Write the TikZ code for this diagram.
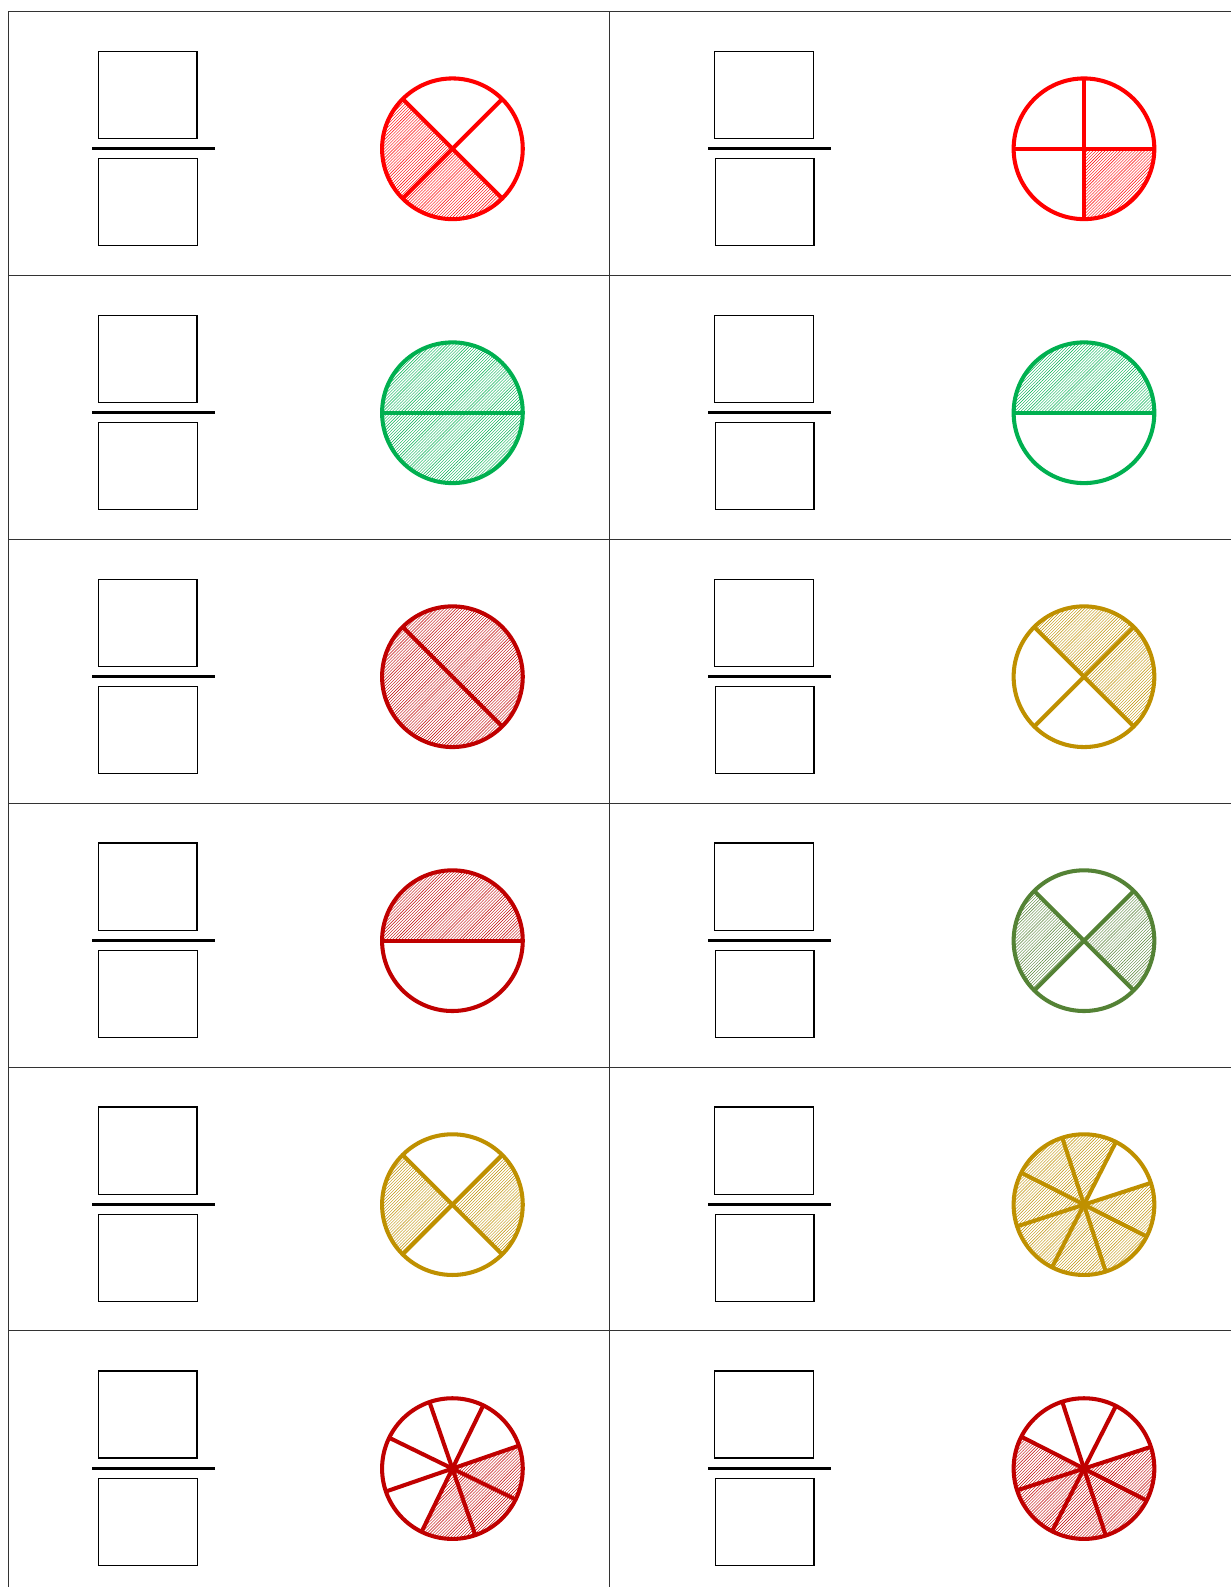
\documentclass[tikz,border=0pt]{standalone}
\usetikzlibrary{patterns}
\definecolor{cred}{HTML}{FF0000}
\definecolor{cgreen}{HTML}{00B050}
\definecolor{cdark}{HTML}{C00000}
\definecolor{cgold}{HTML}{BF9000}
\definecolor{colive}{HTML}{548235}
\tikzset{
  ansbox/.style={draw=black, line width=1.3pt, minimum width=97.5pt, minimum height=86pt, inner sep=0pt, anchor=north west},
  fracbar/.style={draw=black, line width=3pt},
  gridline/.style={draw=black!80, line width=0.9pt},
  pieline/.style={line width=4pt},
}
\newcommand\piechart[5]{%
  \coordinate (#1) at #2;
  \foreach \a/\b in {#5}
    \fill[pattern=north east lines, pattern color=#3] (#1) -- ++(\a:69.5) arc[start angle=\a, end angle=\b, radius=69.5] -- cycle;
  \foreach \a in {#4}
    \draw[pieline, draw=#3] (#1) -- ++(\a:69.5);
  \draw[pieline, draw=#3] (#1) circle[radius=69.5];
}
\begin{document}
\begin{tikzpicture}[x=1pt,y=1pt]
\useasboundingbox (0,0) rectangle (1216,-1568);
% table
\draw[gridline] (8,-11) -- (1216,-11);
\foreach \i in {1,...,5} \draw[gridline] (8,{-(11+260.8*\i)}) -- (1216,{-(11+260.8*\i)});
\draw[gridline] (8,-11) -- (8,-1568);
\draw[gridline] (602,-11) -- (602,-1568);
% fraction boxes
\foreach \i in {0,...,5} {
  \foreach \c/\dx in {L/0, R/609} {
    \pgfmathsetmacro\ry{-(11+260.8*\i)}
    \node[ansbox] (top\c\i) at ({96.5+\dx},{\ry-39}) {};
    \node[ansbox] (bot\c\i) at ({97+\dx},{\ry-145}) {};
    \coordinate (barA\c\i) at ({91+\dx},{\ry-135.5});
    \coordinate (barB\c\i) at ({212+\dx},{\ry-135.5});
    \draw[fracbar] (barA\c\i) -- (barB\c\i);
  }
}
% pies: centres
\def\cy#1{{-(11+260.8*#1+136)}}
\piechart{pL0}{(447,\cy{0})}{cred}{45,135,225,315}{135/225,225/315}
\piechart{pR0}{(1071,\cy{0})}{cred}{0,90,180,270}{270/360}
\piechart{pL1}{(447,\cy{1})}{cgreen}{0,180}{0/180,180/360}
\piechart{pR1}{(1071,\cy{1})}{cgreen}{0,180}{0/180}
\piechart{pL2}{(447,\cy{2})}{cdark}{135,315}{135/315,315/495}
\piechart{pR2}{(1071,\cy{2})}{cgold}{45,135,225,315}{45/135,-45/45}
\piechart{pL3}{(447,\cy{3})}{cdark}{0,180}{0/180}
\piechart{pR3}{(1071,\cy{3})}{colive}{45,135,225,315}{135/225,-45/45}
\piechart{pL4}{(447,\cy{4})}{cgold}{45,135,225,315}{135/225,-45/45}
\piechart{pR4}{(1071,\cy{4})}{cgold}{18,63,108,153,198,243,288,333}{63/108,108/153,153/198,198/243,243/288,288/333,333/378}
\piechart{pL5}{(447,\cy{5})}{cdark}{19,64,109,154,199,244,289,334}{244/289,289/334,334/379}
\piechart{pR5}{(1071,\cy{5})}{cdark}{18,63,108,153,198,243,288,333}{153/198,198/243,243/288,288/333,333/378}
\end{tikzpicture}
\end{document}
